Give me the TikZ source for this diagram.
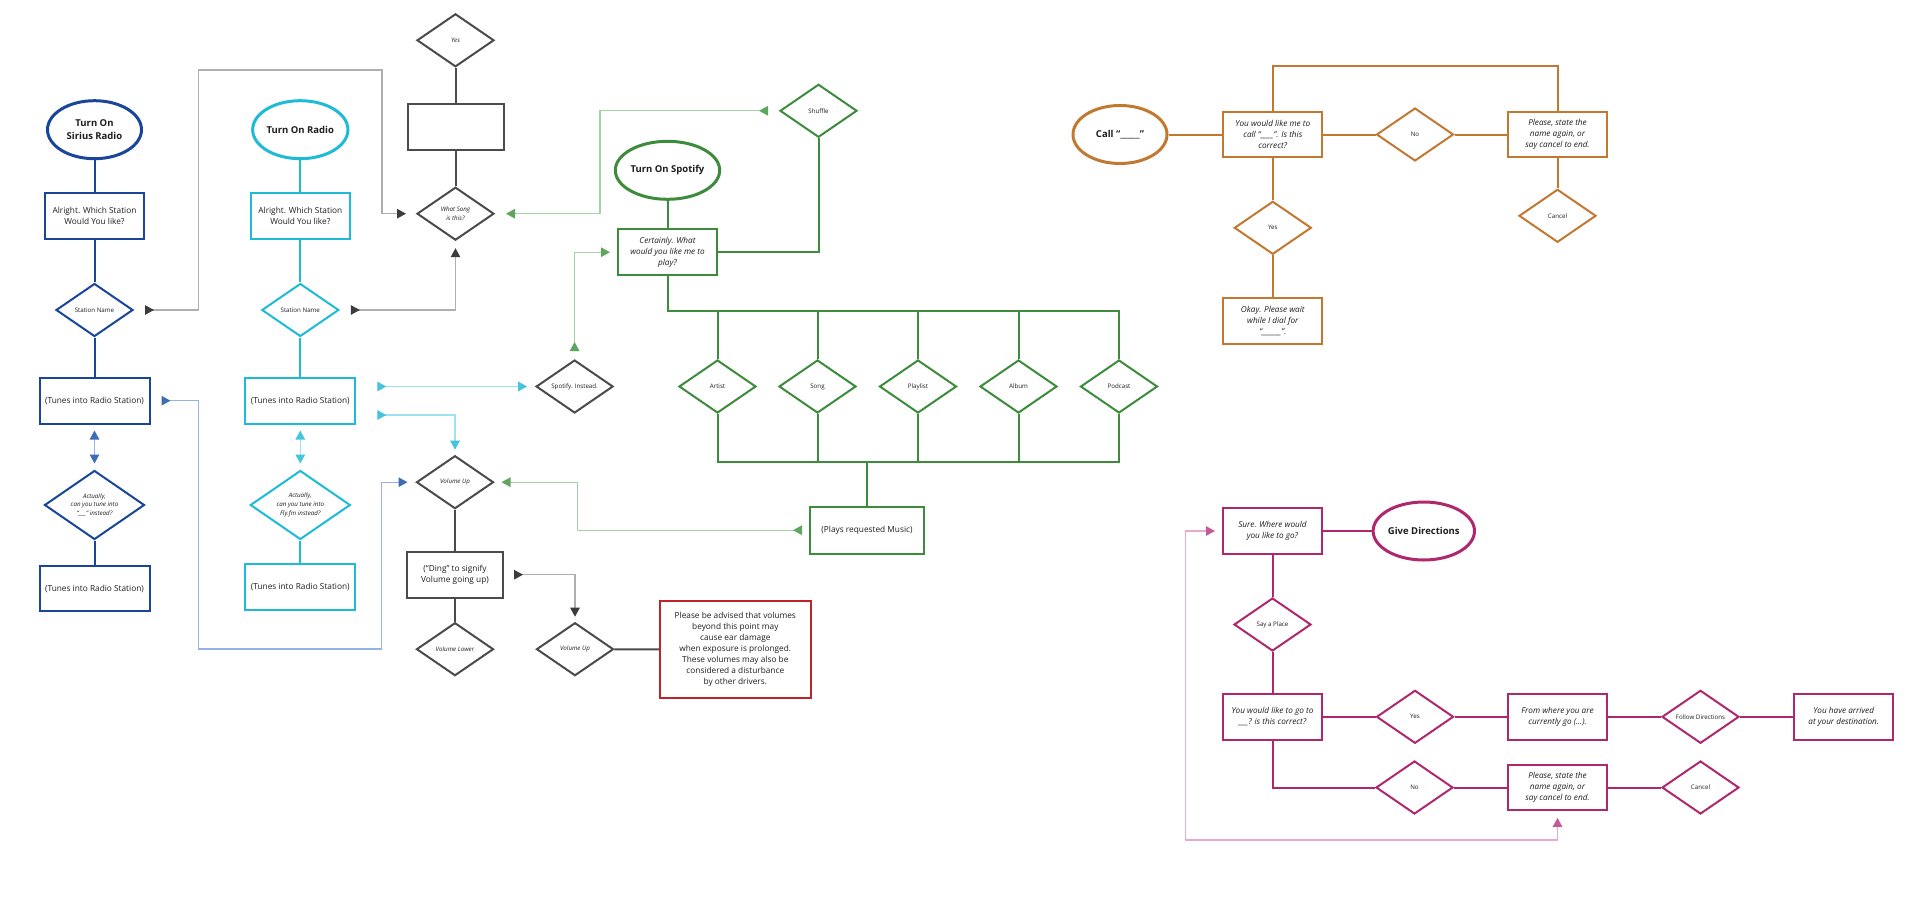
\documentclass[tikz,border=0pt]{standalone}
\usepackage{fontspec}
\setmainfont{Open Sans}
\usetikzlibrary{shapes.geometric,arrows.meta,calc}
\definecolor{sblue}{RGB}{25,70,155}
\definecolor{rcyan}{RGB}{30,187,217}
\definecolor{dgrey}{RGB}{75,75,75}
\definecolor{sgreen}{RGB}{60,140,60}
\definecolor{corange}{RGB}{195,120,50}
\definecolor{dmag}{RGB}{175,40,110}
\definecolor{rred}{RGB}{190,35,40}
\definecolor{txt}{RGB}{30,30,30}
\definecolor{lgrey}{RGB}{175,175,175}
\definecolor{tgrey}{RGB}{60,60,60}
\definecolor{lgreen}{RGB}{165,210,165}
\definecolor{tgreen}{RGB}{95,165,95}
\definecolor{lcyan}{RGB}{160,225,240}
\definecolor{tcyan}{RGB}{70,196,222}
\definecolor{lblue}{RGB}{150,178,228}
\definecolor{tblue}{RGB}{62,109,184}
\definecolor{lpink}{RGB}{230,170,207}
\definecolor{tpink}{RGB}{197,90,152}
\tikzset{
  every node/.style={font=\fontsize{8.3}{11}\selectfont, text=txt},
  ell/.style={ellipse, draw, line width=3pt, minimum width=94pt, minimum height=58pt,
    inner sep=0pt, align=center, font=\fontsize{9.5}{12.5}\selectfont\bfseries},
  bx/.style={rectangle, draw, line width=2pt, minimum width=99pt, minimum height=45.7pt,
    inner sep=0pt, align=center},
  bxi/.style={bx, font=\fontsize{8.2}{11}\selectfont\itshape},
  dia/.style={diamond, draw, line width=2pt, minimum width=77pt, minimum height=53pt,
    inner sep=0pt, shape aspect=1.44, align=center, font=\fontsize{6.2}{8.7}\selectfont},
  diai/.style={dia, font=\fontsize{6.2}{8.7}\selectfont\itshape},
  flow/.style={line width=2pt, draw=#1},
  conn/.style 2 args={line width=1.2pt, draw=#1,
    arrows={Triangle[reversed,length=9pt,width=9.5pt,color=#2]-Triangle[length=9pt,width=9.5pt,color=#2]}},
  dconn/.style 2 args={line width=1.2pt, draw=#1,
    arrows={Triangle[length=9pt,width=9.5pt,color=#2]-Triangle[length=9pt,width=9.5pt,color=#2]}},
}
\begin{document}
\begin{tikzpicture}[x=1pt,y=-1pt]
\fill[white] (0,0) rectangle (1920,910);
\useasboundingbox (0,0) rectangle (1920,910);

% ---------- Sirius (dark blue)
\begin{scope}[every node/.append style={draw=sblue}]
\node[ell] (sell) at (94.5,129.7) {Turn On\\Sirius Radio};
\node[bx] (sal) at (94.5,216.3) {Alright. Which Station\\Would You like?};
\node[dia] (ssn) at (94.5,310) {Station Name};
\node[bx, minimum width=110pt] (st) at (94.5,400.7) {(Tunes into Radio Station)};
\node[diai, minimum width=100pt, minimum height=69pt] (sa) at (94.5,505) {Actually,\\can you tune into\\“\_\_\_” instead?};
\node[bx, minimum width=110pt] (sb) at (94.5,588.5) {(Tunes into Radio Station)};
\end{scope}
\draw[flow=sblue] (sell) -- (sal);
\draw[flow=sblue] (sal) -- (ssn);
\draw[flow=sblue] (ssn) -- (st);
\draw[flow=sblue] (sa) -- (sb);

% ---------- Radio (cyan)
\begin{scope}[every node/.append style={draw=rcyan}]
\node[ell] (rell) at (300.3,129.7) {Turn On Radio};
\node[bx] (ral) at (300.3,216.3) {Alright. Which Station\\Would You like?};
\node[dia] (rsn) at (300.3,310) {Station Name};
\node[bx, minimum width=110pt] (rt) at (300.3,400.7) {(Tunes into Radio Station)};
\node[diai, minimum width=100pt, minimum height=69pt] (ra) at (300.3,505) {Actually,\\can you tune into\\Fly.fm instead?};
\node[bx, minimum width=110pt] (rb) at (300.3,587) {(Tunes into Radio Station)};
\end{scope}
\draw[flow=rcyan] (rell) -- (ral);
\draw[flow=rcyan] (ral) -- (rsn);
\draw[flow=rcyan] (rsn) -- (rt);
\draw[flow=rcyan] (ra) -- (rb);

% ---------- Grey middle
\begin{scope}[every node/.append style={draw=dgrey}]
\node[diai] (yes) at (455.5,40.3) {Yes};
\node[bx, minimum width=96pt] (gbox) at (455.5,127.2) {};
\node[diai] (ws) at (455.5,213.7) {What Song\\is this?};
\node[diai] (vu) at (455,482.2) {Volume Up};
\node[bx, minimum width=96pt] (ding) at (455,574.7) {(“Ding” to signify\\Volume going up)};
\node[diai] (vl) at (455,649.2) {Volume Lower};
\node[diai] (vu2) at (575,649.2) {Volume Up};
\node[dia] (spi) at (574.6,386.5) {Spotify. Instead.};
\end{scope}
\node[bx, draw=rred, minimum width=151pt, minimum height=97pt] (red) at (735.3,649.5)
  {Please be advised that volumes\\beyond this point may\\cause ear damage\\when exposure is prolonged.\\These volumes may also be\\considered a disturbance\\by other drivers.};
\draw[flow=dgrey] (yes) -- (gbox);
\draw[flow=dgrey] (gbox) -- (ws);
\draw[flow=dgrey] (vu) -- (ding);
\draw[flow=dgrey] (ding) -- (vl);
\draw[flow=dgrey] (vu2) -- (red);

% ---------- Spotify (green)
\begin{scope}[every node/.append style={draw=sgreen}]
\node[ell] (spell) at (667.5,170.3) {Turn On Spotify};
\node[bxi] (cert) at (667.5,252.2) {Certainly. What\\would you like me to\\play?};
\node[dia] (shuf) at (818.5,110.8) {Shuffle};
\node[dia] (artist) at (717.5,386.5) {Artist};
\node[dia] (song) at (817.5,386.5) {Song};
\node[dia] (playlist) at (918,386.5) {Playlist};
\node[dia] (album) at (1018.5,386.5) {Album};
\node[dia] (podcast) at (1119,386.5) {Podcast};
\node[bx, minimum width=114pt, minimum height=47pt] (plays) at (867,530.2) {(Plays requested Music)};
\end{scope}
\coordinate (bus1) at (0,310.7);
\coordinate (bus2) at (0,461.7);
\draw[flow=sgreen] (spell) -- (cert);
\draw[flow=sgreen] (cert.east) -| (shuf.south);
\draw[flow=sgreen] (cert.south) -- (cert.south |- bus1) -| (podcast.north);
\foreach \n in {artist,song,playlist,album}{
  \draw[flow=sgreen] (\n.north |- bus1) -- (\n.north);
  }
\draw[flow=sgreen] (artist.south) -- (artist.south |- bus2) -| (podcast.south);
\foreach \n in {song,playlist,album}{
  \draw[flow=sgreen] (\n.south) -- (\n.south |- bus2);
  }
\draw[flow=sgreen] (plays.north |- bus2) -- (plays.north);

% ---------- Call (orange)
\begin{scope}[every node/.append style={draw=corange}]
\node[ell] (cell) at (1120,134.5) {Call “\_\_\_\_\_”};
\node[bxi] (cbox) at (1272.8,134.5) {You would like me to\\call “\_\_\_\_”. Is this\\correct?};
\node[dia] (cno) at (1415,134.5) {No};
\node[bxi] (cplease) at (1557.5,134.5) {Please, state the\\name again, or\\say cancel to end.};
\node[dia] (cyes) at (1272.8,227.8) {Yes};
\node[bxi] (cokay) at (1272.8,321.2) {Okay. Please wait\\while I dial for\\“\_\_\_\_\_\_”.};
\node[dia] (ccancel) at (1557.5,215.8) {Cancel};
\end{scope}
\draw[flow=corange] (cell) -- (cbox);
\draw[flow=corange] (cbox) -- (cno);
\draw[flow=corange] (cno) -- (cplease);
\draw[flow=corange] (cbox) -- (cyes);
\draw[flow=corange] (cyes) -- (cokay);
\draw[flow=corange] (cplease) -- (ccancel);
\draw[flow=corange] (cbox.north) -- ++(0,-44.7) -| (cplease.north);

% ---------- Directions (magenta)
\begin{scope}[every node/.append style={draw=dmag}]
\node[bxi] (sure) at (1272.5,531) {Sure. Where would\\you like to go?};
\node[ell] (gell) at (1423.8,531) {Give Directions};
\node[dia] (place) at (1272.5,624.5) {Say a Place};
\node[bxi] (go) at (1272.5,716.8) {You would like to go to\\\_\_\_? is this correct?};
\node[dia] (dyes) at (1415,716.8) {Yes};
\node[bxi] (from) at (1557.5,716.8) {From where you are\\currently go (...).};
\node[dia] (follow) at (1700.5,716.8) {Follow Directions};
\node[bxi] (arrived) at (1843.7,716.8) {You have arrived\\at your destination.};
\node[dia] (dno) at (1414.5,787.5) {No};
\node[bxi] (dplease) at (1557.5,787.5) {Please, state the\\name again, or\\say cancel to end.};
\node[dia] (dcancel) at (1700.5,787.5) {Cancel};
\end{scope}
\draw[flow=dmag] (sure) -- (gell);
\draw[flow=dmag] (sure) -- (place);
\draw[flow=dmag] (place) -- (go);
\draw[flow=dmag] (go) -- (dyes);
\draw[flow=dmag] (dyes) -- (from);
\draw[flow=dmag] (from) -- (follow);
\draw[flow=dmag] (follow) -- (arrived);
\draw[flow=dmag] (go.south) |- (dno.west);
\draw[flow=dmag] (dno) -- (dplease);
\draw[flow=dmag] (dplease) -- (dcancel);

% ---------- thin connectors with arrow tips
\draw[conn={lgrey}{tgrey}, shorten <=11pt, shorten >=10pt]
  (ssn.east) -| (198.3,70) -- (382,70) |- (ws.west);
\draw[conn={lgrey}{tgrey}, shorten <=11pt, shorten >=7pt]
  (rsn.east) -| (ws.south);
\draw[conn={lgreen}{tgreen}, shorten <=11pt, shorten >=11pt]
  (shuf.west) -- (600,110.8) |- (ws.east);
\draw[conn={lgreen}{tgreen}, shorten <=8pt, shorten >=7pt]
  (spi.north) |- (cert.west);
\draw[conn={lcyan}{tcyan}, shorten <=21pt, shorten >=8pt]
  (rt.east |- spi.west) -- (spi.west);
\draw[conn={lcyan}{tcyan}, shorten <=21pt, shorten >=5pt]
  ($(rt.east)+(0,14.3)$) -| (vu.north);
\draw[conn={lblue}{tblue}, shorten <=11pt, shorten >=8pt]
  (st.east) -| (198.3,649) -- (381.7,649) |- (vu.west);
\draw[conn={lgreen}{tgreen}, shorten <=7pt, shorten >=7pt]
  (plays.west) -| (577.5,482.2) -- (vu.east);
\draw[conn={lgrey}{tgrey}, shorten <=10pt, shorten >=5pt]
  (ding.east) -| (vu2.north);
\draw[dconn={lblue}{tblue}, shorten <=6pt, shorten >=6pt] (st.south) -- (sa.north);
\draw[dconn={lcyan}{tcyan}, shorten <=6pt, shorten >=6pt] (rt.south) -- (ra.north);
\draw[dconn={lpink}{tpink}, shorten <=6.5pt, shorten >=7pt]
  (dplease.south) |- (1185.7,840) |- (sure.west);
\end{tikzpicture}
\end{document}
